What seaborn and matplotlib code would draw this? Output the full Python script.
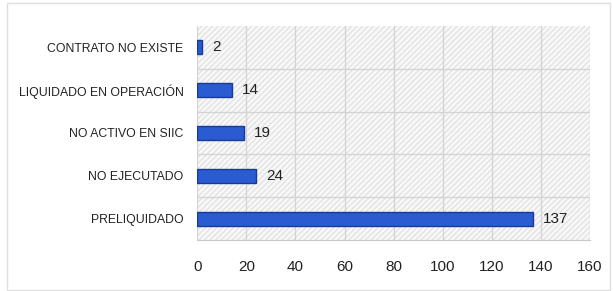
import matplotlib
matplotlib.use('Agg')
import matplotlib.pyplot as plt
import seaborn as sns
import pandas as pd
from matplotlib.patches import Rectangle

# data
categories = ['CONTRATO NO EXISTE', 'LIQUIDADO EN OPERACIÓN', 'NO ACTIVO EN SIIC',
              'NO EJECUTADO', 'PRELIQUIDADO']
values = [2, 14, 19, 24, 137]
x_ticks = [0, 20, 40, 60, 80, 100, 120, 140, 160]

df = pd.DataFrame({'estado': categories, 'cantidad': values})

sns.set_style('white')
plt.rcParams['font.family'] = ['Liberation Sans', 'DejaVu Sans']

fig = plt.figure(figsize=(6.13, 2.91), dpi=100)
# light frame round the whole chart
fig.patches.append(Rectangle((0.012, 0.005), 0.983, 0.985, transform=fig.transFigure,
                             fill=False, edgecolor='#e0e0e0', linewidth=1))
ax = fig.add_axes([0.322, 0.175, 0.640, 0.736])

# hatched grey background like the original
ax.set_facecolor('#f8f8f8')
ax.add_patch(Rectangle((0, 0), 1, 1, transform=ax.transAxes, facecolor='none',
                       edgecolor='#e3e3e3', hatch='//////', linewidth=0, zorder=0))

sns.barplot(data=df, y='estado', x='cantidad', orient='h', ax=ax, width=0.33,
            color='#2a5bd0', edgecolor='#1a3a9a', linewidth=1.0, saturation=1, zorder=3)

for i, v in enumerate(values):
    ax.text(v + 4, i, str(v), va='center', ha='left', fontsize=11, color='#222222', zorder=4)

ax.set_xlim(0, 160)
ax.set_ylim(4.5, -0.5)
ax.set_xticks(x_ticks)
ax.set_xticklabels([str(t) for t in x_ticks], fontsize=11, color='#222222')
ax.tick_params(axis='x', length=0, pad=14)
ax.tick_params(axis='y', length=0, pad=10, labelsize=8.8, labelcolor='#222222')
ax.set_xlabel('')
ax.set_ylabel('')

# vertical gridlines at ticks, horizontal ones between categories
for t in x_ticks:
    ax.axvline(t, color='#d3d3d3', linewidth=0.9, zorder=1)
for b in [0.5, 1.5, 2.5, 3.5]:
    ax.axhline(b, color='#d3d3d3', linewidth=0.9, zorder=1)

for side in ['top', 'right', 'left']:
    ax.spines[side].set_visible(False)
ax.spines['bottom'].set_color('#c8c8c8')

plt.savefig('out.png', dpi=100)
plt.close()
